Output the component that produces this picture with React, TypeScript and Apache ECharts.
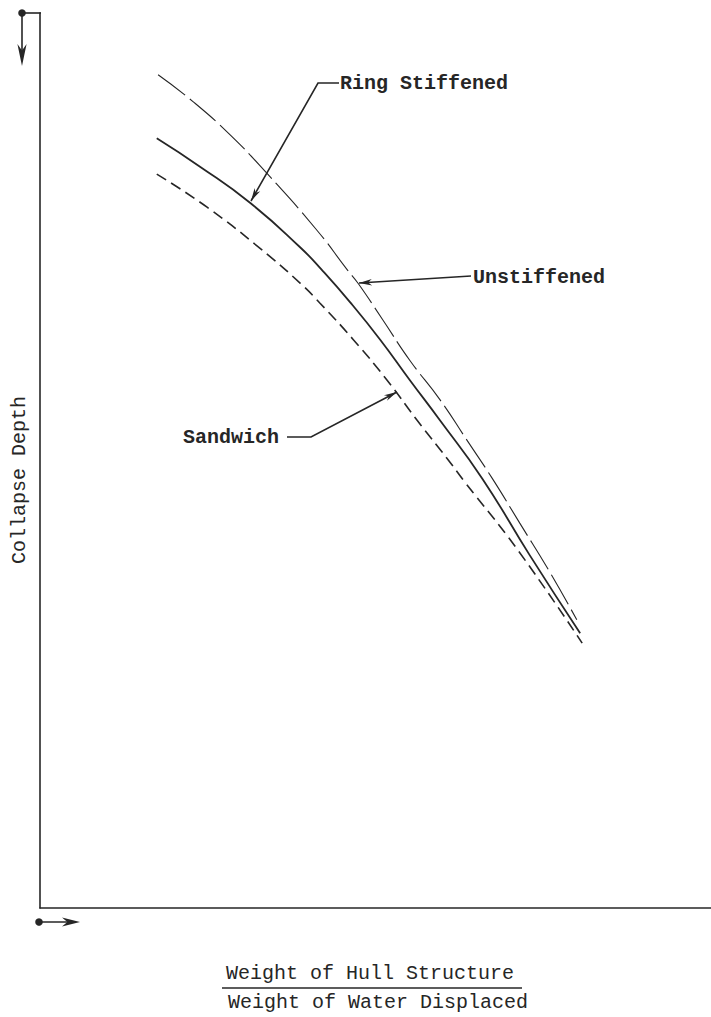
import React, { useEffect, useRef } from "react";
import * as echarts from "echarts";

// Weight of hull structure / weight of water displaced (relative units)
const RATIO_UNSTIFFENED = [1.76, 2.28, 2.83, 3.38, 4.13, 4.58, 4.74, 5.11, 5.51, 5.96, 6.36, 6.74, 7.15, 7.6, 8.0];
// Collapse depth (relative units, increasing downward)
const DEPTH_UNSTIFFENED = [6.9, 9.9, 13.6, 17.9, 24.3, 28.7, 30.2, 34.3, 38.8, 43.2, 47.7, 52.0, 57.0, 62.5, 67.8];

const RATIO_RING = [1.74, 2.39, 3.13, 3.88, 4.2, 4.62, 5.07, 5.51, 5.96, 6.59, 7.3, 8.05];
const DEPTH_RING = [14.0, 17.2, 21.2, 26.2, 28.7, 32.3, 36.5, 41.0, 45.5, 52.0, 60.6, 69.3];

const RATIO_SANDWICH = [1.74, 2.49, 3.28, 3.88, 4.17, 4.67, 5.17, 5.62, 6.07, 6.33, 7.11, 8.08];
const DEPTH_SANDWICH = [18.0, 21.7, 26.3, 30.2, 32.4, 36.5, 41.0, 45.5, 49.8, 52.4, 59.9, 70.4];

const SERIES_NAMES = ["Unstiffened", "Ring Stiffened", "Sandwich"];
const Y_TITLE = "Collapse Depth";
const X_TITLE_TOP = "Weight of Hull Structure";
const X_TITLE_BOTTOM = "Weight of Water Displaced";

const INK = "#262626";
const FONT = '"Liberation Mono", "DejaVu Sans Mono", monospace';

const zip = (xs: number[], ys: number[]) => xs.map((x, i) => [x, ys[i]]);

// Barbed arrowhead with its tip at `tip`, pointing away from `from`.
function arrowHead(tip: number[], from: number[], len = 13, half = 3.2) {
  const dx = tip[0] - from[0];
  const dy = tip[1] - from[1];
  const d = Math.hypot(dx, dy) || 1;
  const ux = dx / d;
  const uy = dy / d;
  const bx = tip[0] - ux * len;
  const by = tip[1] - uy * len;
  return {
    type: "polygon",
    shape: {
      points: [
        [tip[0], tip[1]],
        [bx - uy * half, by + ux * half],
        [tip[0] - ux * len * 0.7, tip[1] - uy * len * 0.7],
        [bx + uy * half, by - ux * half],
      ],
    },
    style: { fill: INK },
    z: 10,
  };
}

function leader(points: number[][]) {
  const tip = points[points.length - 1];
  const prev = points[points.length - 2];
  return [
    {
      type: "polyline",
      shape: { points },
      style: { stroke: INK, lineWidth: 1.6, fill: "none" },
      z: 10,
    },
    arrowHead(tip, prev),
  ];
}

function label(text: string, x: number, y: number, align: string, extra: any = {}) {
  return {
    type: "text",
    x,
    y,
    rotation: extra.rotation || 0,
    style: {
      text,
      fill: INK,
      fontFamily: FONT,
      fontSize: 20,
      fontWeight: extra.weight || "normal",
      align,
      verticalAlign: "middle",
    },
    z: 10,
  };
}

export default function App() {
  const ref = useRef<HTMLDivElement>(null);

  useEffect(() => {
    if (!ref.current) return;
    const chart = echarts.init(ref.current, undefined, { renderer: "svg" });

    const graphic: any[] = [
      // origin markers
      { type: "circle", shape: { cx: 22, cy: 13, r: 3.8 }, style: { fill: INK }, z: 10 },
      { type: "line", shape: { x1: 22, y1: 13, x2: 41, y2: 13 }, style: { stroke: INK, lineWidth: 1.6 }, z: 10 },
      { type: "line", shape: { x1: 22, y1: 13, x2: 22, y2: 60 }, style: { stroke: INK, lineWidth: 1.6 }, z: 10 },
      arrowHead([22, 66], [22, 13], 22, 4.6),
      { type: "circle", shape: { cx: 39, cy: 922, r: 3.8 }, style: { fill: INK }, z: 10 },
      { type: "line", shape: { x1: 39, y1: 922, x2: 74, y2: 922 }, style: { stroke: INK, lineWidth: 1.6 }, z: 10 },
      arrowHead([80, 922], [39, 922], 18, 4.6),

      // curve labels and leaders
      label(SERIES_NAMES[1], 340, 83, "left", { weight: "bold" }),
      ...leader([[339, 83], [318, 83], [251, 201]]),
      label(SERIES_NAMES[0], 473, 277, "left", { weight: "bold" }),
      ...leader([[471, 276], [359, 283]]),
      label(SERIES_NAMES[2], 279, 437, "right", { weight: "bold" }),
      ...leader([[287, 437], [311, 437], [397, 392]]),

      // axis titles
      label(Y_TITLE, 19, 480, "center", { rotation: Math.PI / 2 }),
      label(X_TITLE_TOP, 370, 973, "center"),
      { type: "line", shape: { x1: 222, y1: 988, x2: 522, y2: 988 }, style: { stroke: INK, lineWidth: 1.5 }, z: 10 },
      label(X_TITLE_BOTTOM, 378, 1002, "center"),
    ];

    chart.setOption({
      animation: false,
      backgroundColor: "#ffffff",
      grid: { left: 40, right: 0, top: 13, bottom: 109, containLabel: false },
      xAxis: {
        type: "value",
        min: 0,
        max: 10,
        axisLine: { show: true, onZero: false, lineStyle: { color: INK, width: 1.6 } },
        axisTick: { show: false },
        axisLabel: { show: false },
        splitLine: { show: false },
      },
      yAxis: {
        type: "value",
        inverse: true,
        min: 0,
        max: 100,
        axisLine: { show: true, onZero: false, lineStyle: { color: INK, width: 1.6 } },
        axisTick: { show: false },
        axisLabel: { show: false },
        splitLine: { show: false },
      },
      series: [
        {
          name: SERIES_NAMES[0],
          type: "line",
          data: zip(RATIO_UNSTIFFENED, DEPTH_UNSTIFFENED),
          smooth: 0.5,
          showSymbol: false,
          lineStyle: { color: INK, width: 1.1, type: [34, 6] },
        },
        {
          name: SERIES_NAMES[1],
          type: "line",
          data: zip(RATIO_RING, DEPTH_RING),
          smooth: 0.5,
          showSymbol: false,
          lineStyle: { color: INK, width: 1.8 },
        },
        {
          name: SERIES_NAMES[2],
          type: "line",
          data: zip(RATIO_SANDWICH, DEPTH_SANDWICH),
          smooth: 0.5,
          showSymbol: false,
          lineStyle: { color: INK, width: 1.6, type: [11, 6] },
        },
      ],
      graphic,
    });

    return () => chart.dispose();
  }, []);

  return (
    <div
      ref={ref}
      style={{ position: "absolute", left: 0, top: 0, width: 711, height: 1017, background: "#fff" }}
    />
  );
}
